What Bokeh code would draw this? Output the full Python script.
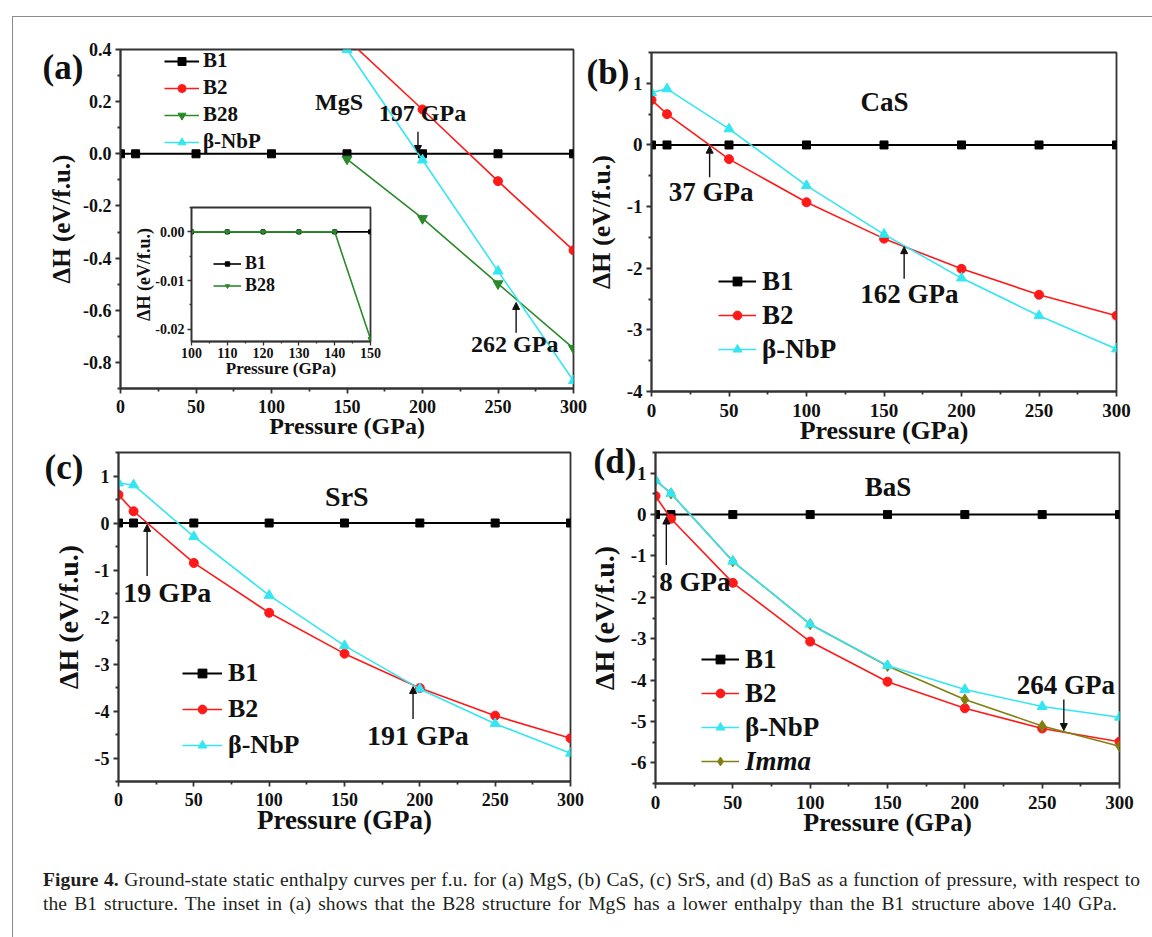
from bokeh.plotting import figure
from bokeh.models import (Range1d, FixedTicker, PrintfTickFormatter, Label, Arrow,
                          NormalHead, Legend, LegendItem, Div, Column)
from bokeh.embed import file_html
from bokeh.resources import INLINE

FONT = "Liberation Serif"
AX = "#333333"
BLACK = "#000000"
RED = "#FF1A1A"
GREEN = "#2A8A2A"
CYAN = "#33E6F2"
OLIVE = "#808010"

# ---------------- data ----------------
pressure = [0, 10, 50, 100, 150, 200, 250, 300]
zero_line = [0, 0, 0, 0, 0, 0, 0, 0]

# (a) MgS
mgs_p_high = [150, 200, 250, 300]
mgs_b2 = [0.44, 0.17, -0.105, -0.37]
mgs_b28 = [-0.02, -0.248, -0.498, -0.746]
mgs_nbp = [0.40, -0.024, -0.45, -0.87]
# inset of (a)
inset_p = [100, 110, 120, 130, 140, 150]
inset_b1 = [0, 0, 0, 0, 0, 0]
inset_b28 = [0, 0, 0, 0, 0, -0.022]

# (b) CaS
cas_b2 = [0.73, 0.50, -0.23, -0.93, -1.52, -2.01, -2.43, -2.77]
cas_nbp = [0.85, 0.91, 0.26, -0.66, -1.45, -2.16, -2.77, -3.31]

# (c) SrS
srs_b2 = [0.60, 0.25, -0.85, -1.91, -2.78, -3.51, -4.10, -4.58]
srs_nbp = [0.85, 0.81, -0.29, -1.54, -2.61, -3.53, -4.27, -4.90]

# (d) BaS
bas_b2 = [0.45, -0.10, -1.65, -3.07, -4.04, -4.68, -5.17, -5.49]
bas_nbp = [0.83, 0.51, -1.13, -2.65, -3.65, -4.23, -4.64, -4.90]
bas_imma = [0.83, 0.51, -1.13, -2.65, -3.66, -4.47, -5.11, -5.60]

# transition pressures
mgs_trans = ["197 GPa", "262 GPa"]
cas_trans = ["37 GPa", "162 GPa"]
srs_trans = ["19 GPa", "191 GPa"]
bas_trans = ["8 GPa", "264 GPa"]

x_major = [0, 50, 100, 150, 200, 250, 300]
x_minor = [25, 75, 125, 175, 225, 275]

BL = 110   # common left border (Column aligns figure frames)
BR = 33    # common right border


def make_panel(L, T, W, H, ft, fb, xr, yr):
    p = figure(width=W, height=H, x_range=Range1d(*xr), y_range=Range1d(*yr),
               output_backend="svg", toolbar_location=None,
               min_border_left=BL, min_border_right=BR,
               min_border_top=ft - T, min_border_bottom=T + H - fb,
               styles={"position": "absolute", "left": f"{L}px", "top": f"{T}px"})
    p.background_fill_alpha = 0
    p.border_fill_alpha = 0
    p.xgrid.visible = False
    p.ygrid.visible = False
    p.outline_line_color = AX
    p.outline_line_width = 1.8
    return p


def style_axes(p, xt, xm, yt, ym, yfmt, tick_px, xlab_px, ylab_px, xlab, ylab,
               x_std=6, y_std=4, xl_std=-3, yl_std=5, tout=5, mout=3, lw=1.8):
    p.xaxis.ticker = FixedTicker(ticks=xt, minor_ticks=xm)
    p.yaxis.ticker = FixedTicker(ticks=yt, minor_ticks=ym)
    p.xaxis.formatter = PrintfTickFormatter(format="%d")
    p.yaxis.formatter = PrintfTickFormatter(format=yfmt)
    p.xaxis.axis_label = xlab
    p.yaxis.axis_label = ylab
    for ax in (p.xaxis[0], p.yaxis[0]):
        ax.axis_line_color = AX
        ax.axis_line_width = lw
        ax.major_tick_line_color = AX
        ax.major_tick_line_width = lw
        ax.minor_tick_line_color = AX
        ax.minor_tick_line_width = lw
        ax.major_tick_in = 0
        ax.major_tick_out = tout
        ax.minor_tick_in = 0
        ax.minor_tick_out = mout
        ax.major_label_text_font = FONT
        ax.major_label_text_font_style = "bold"
        ax.major_label_text_font_size = f"{tick_px}px"
        ax.major_label_text_color = "#111111"
        ax.axis_label_text_font = FONT
        ax.axis_label_text_font_style = "bold"
        ax.axis_label_text_color = "#111111"
    p.xaxis.axis_label_text_font_size = f"{xlab_px}px"
    p.yaxis.axis_label_text_font_size = f"{ylab_px}px"
    p.xaxis.major_label_standoff = x_std
    p.yaxis.major_label_standoff = y_std
    p.xaxis.axis_label_standoff = xl_std
    p.yaxis.axis_label_standoff = yl_std


def series(p, x, y, color, marker, size, lw=1.6):
    r1 = p.line(x, y, line_color=color, line_width=lw)
    r2 = p.scatter(x, y, marker=marker, size=size, fill_color=color, line_color=color)
    return [r1, r2]


def add_legend(p, items, vx, vy, fs, gw, gh, rh, standoff, style="bold"):
    lg = Legend(items=[LegendItem(label=t, renderers=r) for t, r in items],
                location=(vx, vy), glyph_width=gw, glyph_height=gh, label_height=rh,
                label_width=10, spacing=0, padding=0, margin=0, label_standoff=standoff,
                border_line_alpha=0, background_fill_alpha=0,
                label_text_font=FONT, label_text_font_style=style,
                label_text_font_size=f"{fs}px", label_text_color="#111111")
    p.add_layout(lg)


def add_text(p, x, y, text, fs, align="center"):
    p.add_layout(Label(x=x, y=y, text=text, text_font=FONT, text_font_style="bold",
                       text_font_size=f"{fs}px", text_align=align,
                       text_baseline="middle", text_color="#111111"))


def add_arrow(p, x, y0, y1):
    p.add_layout(Arrow(x_start=x, y_start=y0, x_end=x, y_end=y1, line_width=1.4,
                       line_color="#111111",
                       end=NormalHead(size=7, fill_color="#111111", line_color="#111111")))


def panel_tag(text, cx, cy, fs=35):
    return Div(text=(f'<div style="margin:0;padding:0;font-family:\'Liberation Serif\',serif;'
                     f'font-weight:bold;font-size:{fs}px;line-height:{fs}px;color:#111;'
                     f'text-align:center;width:60px;">{text}</div>'),
               width=60, height=fs,
               styles={"position": "absolute", "left": f"{cx - 30}px",
                       "top": f"{cy - fs // 2}px"})


YLAB = "\u0394H (eV/f.u.)"
XLAB = "Pressure (GPa)"

# ---------------- panel (a) ----------------
pa = make_panel(10, 0, 596, 452, 49, 388, (0, 300), (-0.9, 0.4))
style_axes(pa, x_major, x_minor, [-0.8, -0.6, -0.4, -0.2, 0, 0.2, 0.4],
           [-0.9, -0.7, -0.5, -0.3, -0.1, 0.1, 0.3], "%.1f", 18, 24, 25, XLAB, YLAB)
a1 = series(pa, pressure, zero_line, BLACK, "square", 8, 2)
a2 = series(pa, mgs_p_high, mgs_b2, RED, "circle", 9)
a3 = series(pa, mgs_p_high, mgs_b28, GREEN, "inverted_triangle", 10)
a4 = series(pa, mgs_p_high, mgs_nbp, CYAN, "triangle", 10)
add_legend(pa, [("B1", a1), ("B2", a2), ("B28", a3), ("\u03b2-NbP", a4)],
           44, 233, 21, 35, 20, 27, 4)
add_text(pa, 144.7, 0.2, "MgS", 24)
add_text(pa, 200, 0.157, mgs_trans[0], 24)
add_text(pa, 261.1, -0.728, mgs_trans[1], 24)
add_arrow(pa, 197, 0.085, 0.005)
add_arrow(pa, 262, -0.686, -0.570)

# inset
pin = make_panel(81, 190, 322, 200, 207, 341, (100, 150), (-0.0225, 0.005))
pin.background_fill_color = "white"
pin.background_fill_alpha = 1
style_axes(pin, [100, 110, 120, 130, 140, 150], [105, 115, 125, 135, 145],
           [-0.02, -0.01, 0.0], [-0.015, -0.005, 0.005], "%.2f", 14, 17, 18, XLAB, YLAB,
           x_std=2, y_std=3, xl_std=-2, yl_std=-2, tout=4, mout=2, lw=1.3)
i1 = series(pin, inset_p, inset_b1, BLACK, "square", 4, 1.6)
i2 = series(pin, inset_p, inset_b28, GREEN, "inverted_triangle", 5, 1.6)
add_legend(pin, [("B1", i1), ("B28", i2)], 22, 45, 18, 28, 11, 22, 4)

# ---------------- panel (b) ----------------
pb = make_panel(541, 0, 608, 452, 52, 391, (0, 300), (-4, 1.5))
style_axes(pb, x_major, x_minor, [-4, -3, -2, -1, 0, 1],
           [-3.5, -2.5, -1.5, -0.5, 0.5, 1.5], "%d", 19, 26, 26, XLAB, YLAB,
           x_std=7, xl_std=-4, yl_std=8)
b1 = series(pb, pressure, zero_line, BLACK, "square", 8, 2)
b2 = series(pb, pressure, cas_b2, RED, "circle", 9)
b3 = series(pb, pressure, cas_nbp, CYAN, "triangle", 10)
add_legend(pb, [("B1", b1), ("B2", b2), ("\u03b2-NbP", b3)], 67, 25, 27, 38, 22, 34, 6)
add_text(pb, 150.3, 0.69, "CaS", 27)
add_text(pb, 38.5, -0.77, cas_trans[0], 27)
add_text(pb, 166.4, -2.42, cas_trans[1], 27)
add_arrow(pb, 37.5, -0.525, -0.02)
add_arrow(pb, 163, -2.17, -1.65)

# ---------------- panel (c) ----------------
pc = make_panel(8, 438, 595, 412, 452, 781, (0, 300), (-5.5, 1.5))
style_axes(pc, x_major, x_minor, [-5, -4, -3, -2, -1, 0, 1],
           [-5.5, -4.5, -3.5, -2.5, -1.5, -0.5, 0.5, 1.5], "%d", 18, 27, 28, XLAB, YLAB,
           x_std=6, xl_std=-4, yl_std=8)
c1 = series(pc, pressure, zero_line, BLACK, "square", 8, 2)
c2 = series(pc, pressure, srs_b2, RED, "circle", 9)
c3 = series(pc, pressure, srs_nbp, CYAN, "triangle", 10)
add_legend(pc, [("B1", c1), ("B2", c2), ("\u03b2-NbP", c3)], 64, 18, 26, 40, 22, 36, 6)
add_text(pc, 151.6, 0.57, "SrS", 28)
add_text(pc, 32.4, -1.48, srs_trans[0], 28)
add_text(pc, 198.7, -4.52, srs_trans[1], 28)
add_arrow(pc, 19, -1.13, -0.03)
add_arrow(pc, 195.5, -4.17, -3.48)

# ---------------- panel (d) ----------------
pd = make_panel(545, 438, 607, 412, 452, 783, (0, 300), (-6.5, 1.5))
style_axes(pd, x_major, x_minor, [-6, -5, -4, -3, -2, -1, 0, 1],
           [-6.5, -5.5, -4.5, -3.5, -2.5, -1.5, -0.5, 0.5, 1.5], "%d", 19, 26, 28, XLAB, YLAB,
           x_std=7, xl_std=-4, yl_std=8)
d1 = series(pd, pressure, zero_line, BLACK, "square", 8, 2)
d2 = series(pd, pressure, bas_b2, RED, "circle", 9)
d4 = series(pd, pressure, bas_imma, OLIVE, "diamond", 11)
d3 = series(pd, pressure, bas_nbp, CYAN, "triangle", 10)
add_legend(pd, [("B1", d1), ("B2", d2), ("\u03b2-NbP", d3)], 46, 39, 27, 38, 22, 34, 6)
add_legend(pd, [("Imma", d4)], 46, 5, 27, 38, 22, 34, 6, style="bold italic")
add_text(pd, 150.3, 0.67, "BaS", 27)
add_text(pd, 25.4, -1.63, bas_trans[0], 27)
add_text(pd, 265.3, -4.12, bas_trans[1], 27)
add_arrow(pd, 7, -1.22, -0.06)
add_arrow(pd, 264, -4.47, -5.22)

# ---------------- panel tags, frame line and caption ----------------
tags = [panel_tag("(a)", 58, 62), panel_tag("(b)", 603, 67),
        panel_tag("(c)", 59, 462), panel_tag("(d)", 610, 456)]

border = Div(text="", width=1146, height=928,
             styles={"position": "absolute", "left": "7px", "top": "11px",
                     "border-left": "1.5px solid #8c8c8c",
                     "border-top": "1.5px solid #8c8c8c"})

line_css = ("margin:0;padding:0;font-family:'Liberation Serif',serif;font-size:19.5px;"
            "letter-spacing:0.1px;line-height:24px;color:#231f20;white-space:nowrap;"
            "text-align:justify;text-align-last:justify;")
cap_html = (
    f'<div style="{line_css}width:1097px;"><b>Figure 4.</b> Ground-state static '
    'enthalpy curves per f.u. for (a) MgS, (b) CaS, (c) SrS, and (d) BaS as a function of '
    'pressure, with respect to</div>'
    f'<div style="{line_css}width:1074px;">the B1 structure. The inset in (a) shows '
    'that the B28 structure for MgS has a lower enthalpy than the B1 structure above 140 GPa.</div>'
)
caption = Div(text=cap_html, width=1110, height=50,
              styles={"position": "absolute", "left": "38px", "top": "863px"})

root = Column(children=[border, pa, pb, pc, pd, pin, caption] + tags, width=1152, height=937,
              sizing_mode="fixed", styles={"position": "relative"})

open("out.html", "w").write(file_html(root, INLINE))
